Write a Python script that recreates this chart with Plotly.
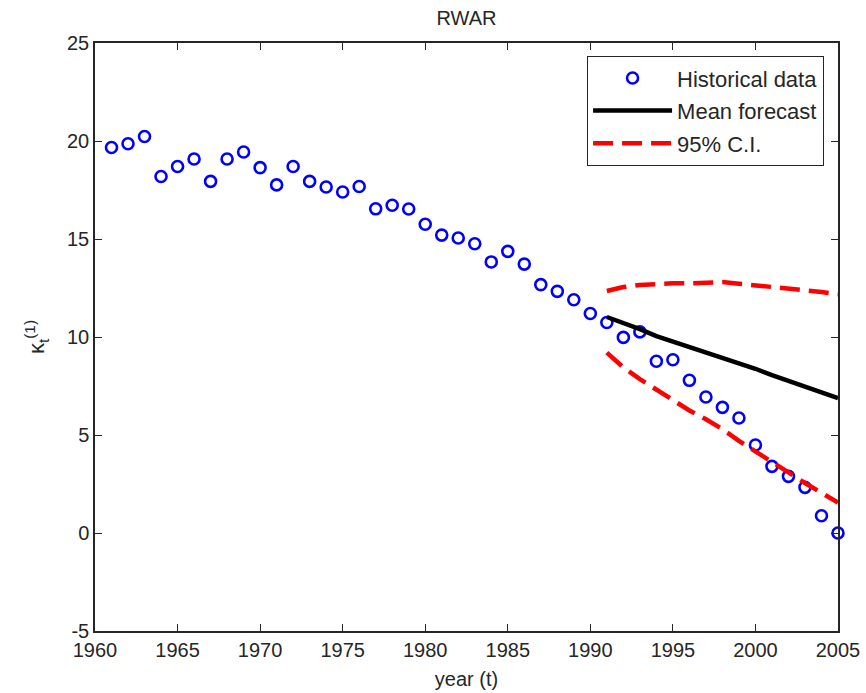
import plotly.graph_objects as go

years_hist = list(range(1961, 2006))
kappa_hist = [19.67, 19.86, 20.23, 18.19, 18.70, 19.08, 17.94, 19.08, 19.44, 18.64,
              17.76, 18.70, 17.94, 17.65, 17.40, 17.68, 16.54, 16.72, 16.53, 15.75,
              15.20, 15.05, 14.76, 13.83, 14.37, 13.72, 12.67, 12.33, 11.90, 11.20,
              10.74, 9.98, 10.26, 8.76, 8.84, 7.79, 6.94, 6.41, 5.87, 4.49,
              3.40, 2.89, 2.33, 0.88, 0.0]

years_fc = list(range(1991, 2006))
mean_fc = [11.02, 10.72, 10.40, 10.05, 9.78, 9.50, 9.20, 8.92, 8.65, 8.38,
           8.05, 7.75, 7.45, 7.15, 6.88]
upper_ci = [12.35, 12.55, 12.65, 12.72, 12.74, 12.74, 12.76, 12.80, 12.72, 12.64,
            12.58, 12.48, 12.40, 12.30, 12.18]
lower_ci = [9.20, 8.45, 7.85, 7.30, 6.80, 6.25, 5.80, 5.30, 4.70, 4.15,
            3.60, 3.05, 2.55, 2.05, 1.55]

x_ticks = list(range(1960, 2006, 5))
y_ticks = list(range(-5, 26, 5))
y_ticktext = [str(v) for v in y_ticks]

FONT = "Liberation Sans"
TXT = "#262626"

fig = go.Figure()
fig.add_trace(go.Scatter(
    x=years_hist, y=kappa_hist, mode="markers", name="Historical data",
    legendgroup="a", cliponaxis=False,
    marker=dict(symbol="circle-open", size=11, color="#0000ff",
                line=dict(width=2.6, color="#0000ff"))))
fig.add_trace(go.Scatter(
    x=years_fc, y=mean_fc, mode="lines", name="Mean forecast",
    legendgroup="b", line=dict(color="black", width=4.5)))
fig.add_trace(go.Scatter(
    x=years_fc, y=upper_ci, mode="lines", name="95% C.I.",
    legendgroup="c", line=dict(color="#ff0000", width=4.5, dash="20px,9px")))
fig.add_trace(go.Scatter(
    x=years_fc, y=lower_ci, mode="lines", name="95% C.I.",
    legendgroup="c", showlegend=False,
    line=dict(color="#ff0000", width=4.5, dash="20px,9px")))

axis_common = dict(showline=True, linecolor=TXT, linewidth=1.5, mirror="ticks",
                   ticks="inside", ticklen=7, tickcolor=TXT, showgrid=False,
                   zeroline=False, automargin=False,
                   tickfont=dict(family=FONT, size=20, color=TXT))

fig.update_layout(
    width=866, height=693,
    margin=dict(l=95, r=28, t=43, b=62),
    paper_bgcolor="white", plot_bgcolor="white",
    title=dict(text="RWAR", x=0.5, xref="paper", xanchor="center",
               y=0.974, yref="container", yanchor="middle",
               font=dict(family=FONT, size=20, color=TXT)),
    xaxis=dict(range=[1960, 2005], tickvals=x_ticks,
               title=dict(text="year (t)", font=dict(family=FONT, size=20, color=TXT),
                          standoff=12),
               **axis_common),
    yaxis=dict(range=[-5, 25], tickvals=y_ticks, ticktext=y_ticktext,
               title=dict(text="κ<sub>t</sub><sup>(1)</sup>",
                          font=dict(family=FONT, size=22, color=TXT), standoff=16),
               **axis_common),
    legend=dict(x=0.662, y=0.978, xanchor="left", yanchor="top",
                bordercolor=TXT, borderwidth=1.2, bgcolor="white",
                font=dict(family=FONT, size=22, color=TXT),
                tracegroupgap=1, itemwidth=79),
    showlegend=True,
)

fig.write_html("out.html")
